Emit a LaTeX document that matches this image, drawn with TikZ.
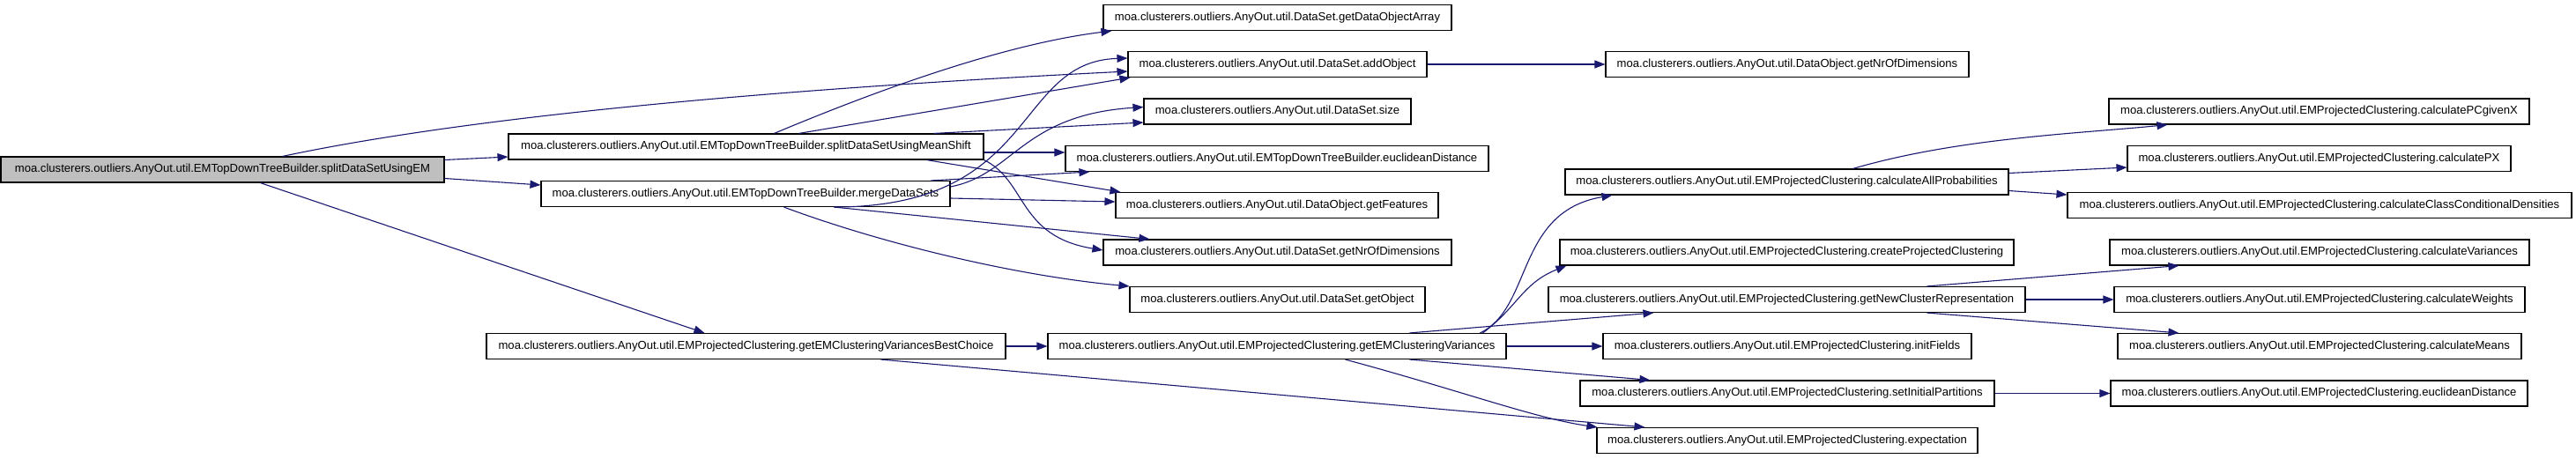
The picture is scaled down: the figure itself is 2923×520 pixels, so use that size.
\documentclass[tikz,border=0pt]{standalone}
\usepackage{fontspec}
\setmainfont{Liberation Sans}
\usetikzlibrary{arrows.meta,calc}
\definecolor{navyc}{HTML}{191970}
\definecolor{rootgray}{HTML}{BFBFBF}
\begin{document}
\begin{tikzpicture}[x=1pt,y=-1pt,
  fnbox/.style={draw=black, line width=1.1pt, fill=white, minimum height=29pt, inner sep=0pt,
    font=\fontsize{13.1}{15}\selectfont},
  callarrow/.style={draw=navyc, line width=1.1pt, -{Triangle[length=12pt,width=9pt]}}]
\useasboundingbox (0,0) rectangle (2923,520);
% column 0
\node[fnbox, fill=rootgray, minimum width=503pt] (root) at (252.5,192.5) {moa.clusterers.outliers.AnyOut.util.EMTopDownTreeBuilder.splitDataSetUsingEM};
% column 1
\node[fnbox, minimum width=539pt] (sm) at (846.5,166.5) {moa.clusterers.outliers.AnyOut.util.EMTopDownTreeBuilder.splitDataSetUsingMeanShift};
\node[fnbox, minimum width=464pt] (md) at (846,220) {moa.clusterers.outliers.AnyOut.util.EMTopDownTreeBuilder.mergeDataSets};
\node[fnbox, minimum width=589pt] (best) at (846.5,393) {moa.clusterers.outliers.AnyOut.util.EMProjectedClustering.getEMClusteringVariancesBestChoice};
% column 2
\node[fnbox, minimum width=395pt] (gdoa) at (1449.5,20) {moa.clusterers.outliers.AnyOut.util.DataSet.getDataObjectArray};
\node[fnbox, minimum width=339pt] (addobj) at (1449.5,73) {moa.clusterers.outliers.AnyOut.util.DataSet.addObject};
\node[fnbox, minimum width=303pt] (size) at (1449.5,126.5) {moa.clusterers.outliers.AnyOut.util.DataSet.size};
\node[fnbox, minimum width=480pt] (eucl) at (1449,180) {moa.clusterers.outliers.AnyOut.util.EMTopDownTreeBuilder.euclideanDistance};
\node[fnbox, minimum width=366pt] (feat) at (1449,233) {moa.clusterers.outliers.AnyOut.util.DataObject.getFeatures};
\node[fnbox, minimum width=395pt] (dsnr) at (1449.5,286.5) {moa.clusterers.outliers.AnyOut.util.DataSet.getNrOfDimensions};
\node[fnbox, minimum width=335pt] (getobj) at (1449.5,340) {moa.clusterers.outliers.AnyOut.util.DataSet.getObject};
\node[fnbox, minimum width=520pt] (emcv) at (1449,393) {moa.clusterers.outliers.AnyOut.util.EMProjectedClustering.getEMClusteringVariances};
% column 3
\node[fnbox, minimum width=412pt] (donr) at (2028,73) {moa.clusterers.outliers.AnyOut.util.DataObject.getNrOfDimensions};
\node[fnbox, minimum width=503pt] (allprob) at (2027.5,206.5) {moa.clusterers.outliers.AnyOut.util.EMProjectedClustering.calculateAllProbabilities};
\node[fnbox, minimum width=515pt] (create) at (2027.5,286.5) {moa.clusterers.outliers.AnyOut.util.EMProjectedClustering.createProjectedClustering};
\node[fnbox, minimum width=541pt] (newcr) at (2027.5,340) {moa.clusterers.outliers.AnyOut.util.EMProjectedClustering.getNewClusterRepresentation};
\node[fnbox, minimum width=418pt] (init) at (2028,393) {moa.clusterers.outliers.AnyOut.util.EMProjectedClustering.initFields};
\node[fnbox, minimum width=470pt] (setinit) at (2028,446.5) {moa.clusterers.outliers.AnyOut.util.EMProjectedClustering.setInitialPartitions};
\node[fnbox, minimum width=432pt] (expect) at (2028,500) {moa.clusterers.outliers.AnyOut.util.EMProjectedClustering.expectation};
% column 4
\node[fnbox, minimum width=477pt] (pcx) at (2631.5,126.5) {moa.clusterers.outliers.AnyOut.util.EMProjectedClustering.calculatePCgivenX};
\node[fnbox, minimum width=435pt] (px) at (2631.5,180) {moa.clusterers.outliers.AnyOut.util.EMProjectedClustering.calculatePX};
\node[fnbox, minimum width=572pt] (ccd) at (2632,233) {moa.clusterers.outliers.AnyOut.util.EMProjectedClustering.calculateClassConditionalDensities};
\node[fnbox, minimum width=476pt] (var) at (2632,286.5) {moa.clusterers.outliers.AnyOut.util.EMProjectedClustering.calculateVariances};
\node[fnbox, minimum width=466pt] (wts) at (2632,340) {moa.clusterers.outliers.AnyOut.util.EMProjectedClustering.calculateWeights};
\node[fnbox, minimum width=458pt] (means) at (2632,393) {moa.clusterers.outliers.AnyOut.util.EMProjectedClustering.calculateMeans};
\node[fnbox, minimum width=473pt] (eucltwo) at (2631.5,446.5) {moa.clusterers.outliers.AnyOut.util.EMProjectedClustering.euclideanDistance};

% connectors from root
\draw[callarrow] ($(root.north west)+(320,0)$) .. controls +(179,-38) and +(-480,24) .. ($(addobj.west)+(0,8)$);
\draw[callarrow] ($(root.east)+(0,-11)$) -- ($(sm.west)+(0,11.5)$);
\draw[callarrow] ($(root.east)+(0,10)$) -- ($(md.west)+(0,-10)$);
\draw[callarrow] ($(root.south west)+(295,0)$) -- ($(best.north west)+(248,0)$);
% from splitDataSetUsingMeanShift
\draw[callarrow] ($(sm.north west)+(302,0)$) .. controls +(100,-42) and +(-130,16) .. ($(gdoa.south west)+(10,0)$);
\draw[callarrow] ($(sm.north west)+(330,0)$) -- ($(addobj.south west)+(3,0)$);
\draw[callarrow] ($(sm.north west)+(483,0)$) -- ($(size.west)+(0,12.5)$);
\draw[callarrow] ($(sm.east)+(0,6.5)$) -- ($(eucl.west)+(0,-7)$);
\draw[callarrow] ($(sm.south west)+(475,0)$) -- ($(feat.north west)+(6,0)$);
\draw[callarrow] (sm.south east) .. controls +(49,24) and +(-97,-16) .. ($(dsnr.west)+(0,-2.5)$);
% from mergeDataSets
\draw[callarrow] ($(md.south west)+(333,0)$) .. controls +(233,0) and +(-130,4) .. ($(addobj.west)+(0,-7)$);
\draw[callarrow] ($(md.east)+(0,-8)$) .. controls +(72,-14) and +(-138,9) .. ($(size.west)+(0,-5)$);
\draw[callarrow] ($(md.north west)+(443,0)$) -- ($(eucl.south west)+(28,0)$);
\draw[callarrow] ($(md.east)+(0,5)$) -- ($(feat.west)+(0,-4)$);
\draw[callarrow] ($(md.south west)+(333,0)$) -- ($(dsnr.north west)+(53,0)$);
\draw[callarrow] ($(md.south west)+(276,0)$) .. controls +(110,41) and +(-130,-12) .. (getobj.north west);
% from getEMClusteringVariancesBestChoice
\draw[callarrow] (best.east) -- (emcv.west);
\draw[callarrow] ($(best.south west)+(448,0)$) -- ($(expect.north west)+(55,0)$);
% from getEMClusteringVariances
\draw[callarrow] ($(emcv.north west)+(491,0)$) .. controls +(60,-29) and +(-110,19) .. ($(allprob.south west)+(54,0)$);
\draw[callarrow] ($(emcv.north west)+(494,0)$) .. controls +(40,-30) and +(-50,20) .. ($(create.south west)+(8,0)$);
\draw[callarrow] ($(emcv.north west)+(411,0)$) -- ($(newcr.south west)+(120,0)$);
\draw[callarrow] (emcv.east) -- (init.west);
\draw[callarrow] ($(emcv.south west)+(411,0)$) -- ($(setinit.north west)+(80,0)$);
\draw[callarrow] ($(emcv.south west)+(338,0)$) .. controls +(130,35) and +(-70,-10) .. ($(expect.north west)+(1,0)$);
% from addObject
\draw[callarrow] (addobj.east) -- (donr.west);
% from calculateAllProbabilities
\draw[callarrow] ($(allprob.north west)+(327,0)$) .. controls +(120,-35) and +(-100,10) .. ($(pcx.south west)+(67,0)$);
\draw[callarrow] ($(allprob.east)+(0,-10)$) -- ($(px.west)+(0,10)$);
\draw[callarrow] ($(allprob.east)+(0,10)$) -- ($(ccd.west)+(0,-12)$);
% from getNewClusterRepresentation
\draw[callarrow] ($(newcr.north west)+(430,0)$) -- ($(var.south west)+(79,0)$);
\draw[callarrow] (newcr.east) -- (wts.west);
\draw[callarrow] ($(newcr.south west)+(430,0)$) -- ($(means.north west)+(70,0)$);
% from setInitialPartitions
\draw[callarrow] (setinit.east) -- (eucltwo.west);
\end{tikzpicture}
\end{document}
